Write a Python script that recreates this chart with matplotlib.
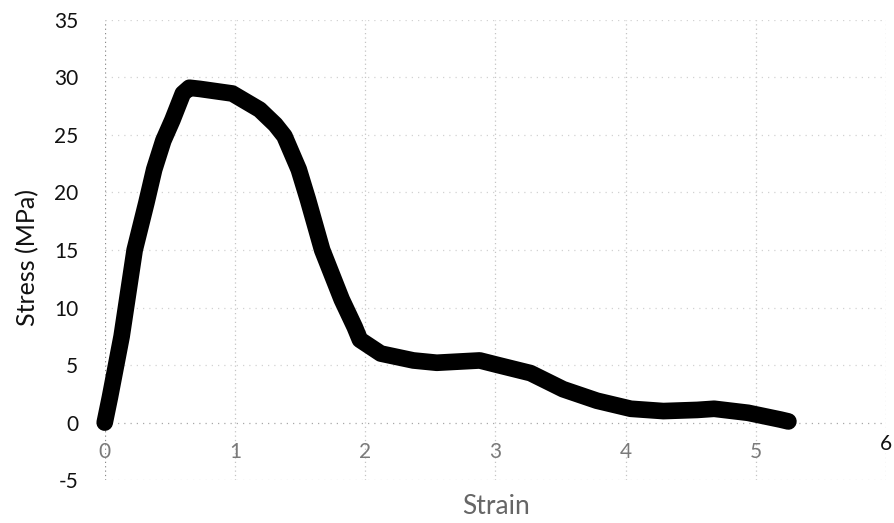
import matplotlib
matplotlib.use("Agg")
import matplotlib.pyplot as plt

# Stress-strain curve of the specimen
strain = [0.00, 0.04, 0.13, 0.23, 0.32, 0.38, 0.45, 0.52, 0.60, 0.65, 0.73,
          0.98, 1.19, 1.31, 1.38, 1.49, 1.56, 1.67, 1.82, 1.92, 1.96, 2.12,
          2.37, 2.55, 2.88, 3.02, 3.27, 3.52, 3.78, 4.04, 4.29, 4.55, 4.68,
          4.94, 5.19, 5.25]
stress = [0.0, 2.2, 7.5, 15.0, 19.1, 22.0, 24.5, 26.3, 28.6, 29.1, 29.0,
          28.6, 27.2, 25.9, 24.9, 22.0, 19.4, 15.0, 10.7, 8.3, 7.2, 6.0,
          5.4, 5.2, 5.4, 5.0, 4.3, 2.9, 1.9, 1.2, 1.0, 1.1, 1.2,
          0.85, 0.26, 0.1]

x_ticks = [0, 1, 2, 3, 4, 5, 6]
y_ticks = [-5, 0, 5, 10, 15, 20, 25, 30, 35]

plt.rcParams['font.family'] = ['Lato', 'DejaVu Sans']

fig = plt.figure(figsize=(8.95, 5.23), dpi=100)
ax = fig.add_axes([0.117, 0.082, 0.873, 0.880])
ax.set_xlim(0, 6)
ax.set_ylim(-5, 35)

for s in ax.spines.values():
    s.set_visible(False)

# dotted grid
for xv in x_ticks:
    c = '#8a8a8a' if xv == 0 else '#c4c4c4'
    ax.axvline(xv, color=c, lw=0.9, ls=(0, (1, 2.5)), zorder=1)
for yv in y_ticks:
    c = '#a8a8a8' if yv == 0 else '#d2d2d2'
    ax.axhline(yv, color=c, lw=0.9, ls=(0, (1, 4)), zorder=1)

ax.plot(strain, stress, color='black', lw=12, solid_capstyle='round',
        solid_joinstyle='round', clip_on=False, zorder=3)

ax.set_yticks(y_ticks)
ax.set_yticklabels([str(v) for v in y_ticks], fontsize=15, color='#111111')
ax.tick_params(axis='y', length=0, pad=19)
ax.set_xticks([])

# x tick labels sit just below the zero line
for xv in x_ticks:
    if xv == 6:
        ax.text(xv, -1.9, str(xv), ha='center', va='center', fontsize=15,
                color='#111111')
    else:
        ax.text(xv, -2.6, str(xv), ha='center', va='center', fontsize=15,
                color='#7a7a7a')

fig.text(28 / 895, 1 - 257 / 523, 'Stress (MPa)', rotation=90,
         ha='center', va='center', fontsize=18, color='#111111')
fig.text(496 / 895, 1 - 507 / 523, 'Strain', ha='center', va='center',
         fontsize=19, color='#666666')

fig.savefig('out.png', dpi=100)
